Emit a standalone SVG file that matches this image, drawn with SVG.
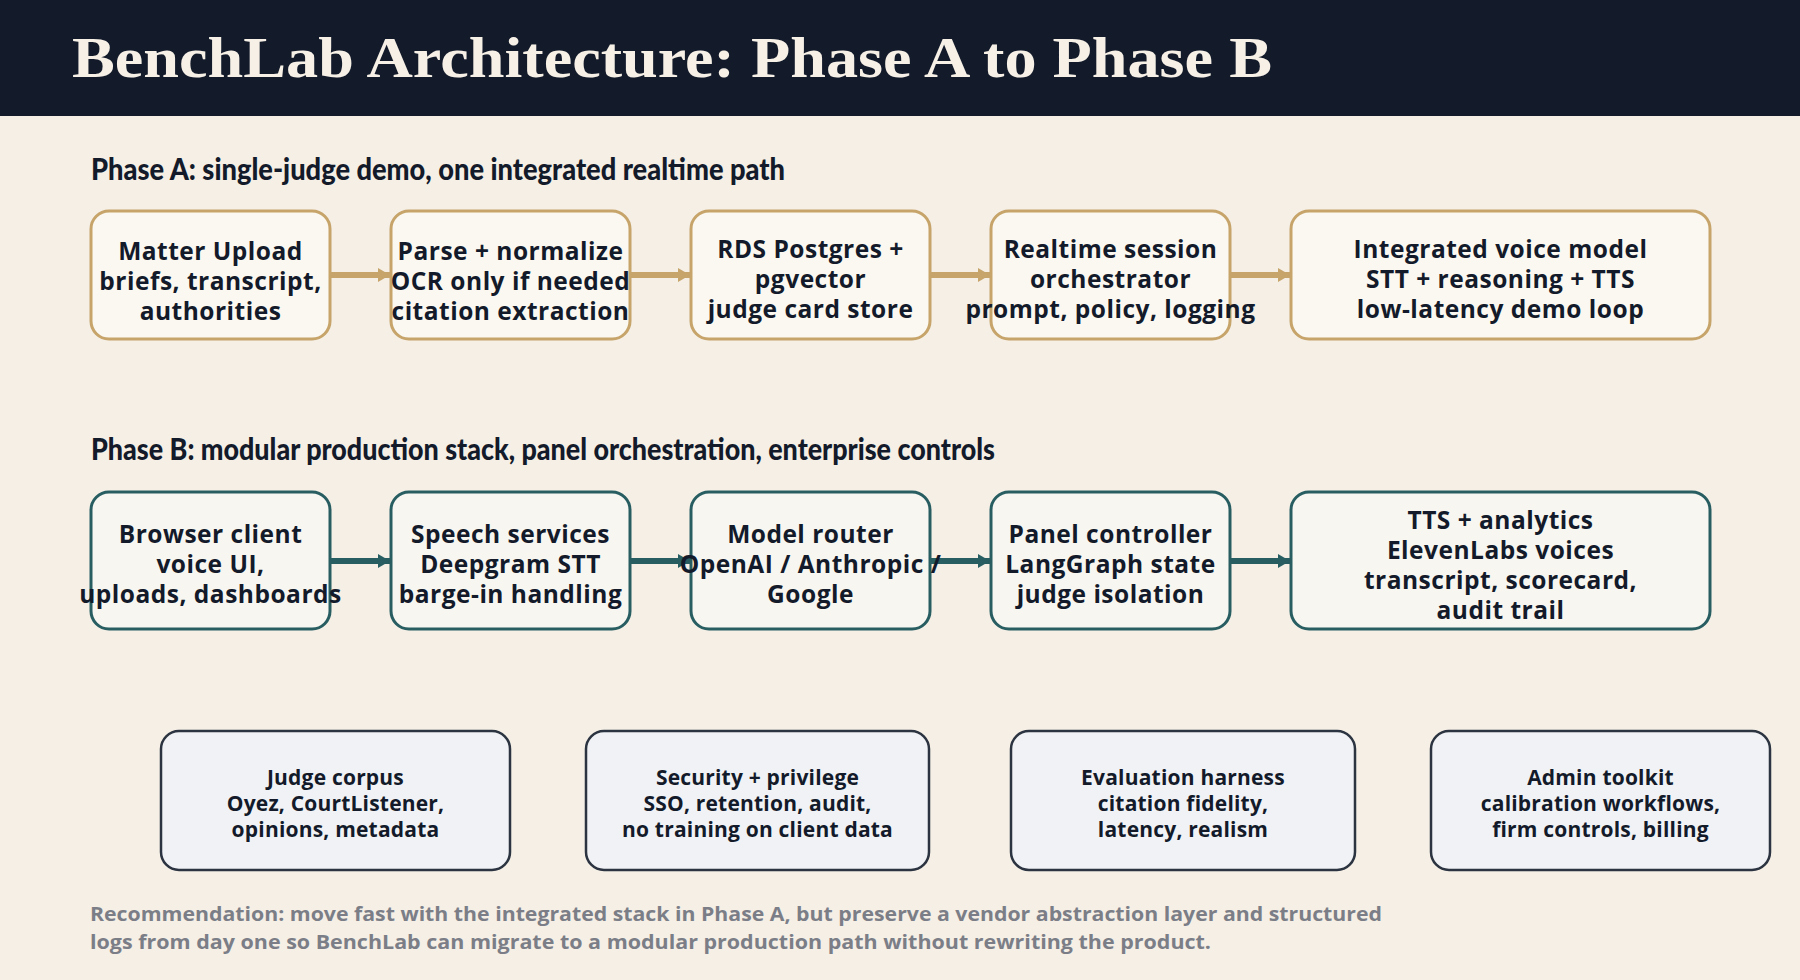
<svg xmlns="http://www.w3.org/2000/svg" width="1800" height="980" viewBox="0 0 1800 980">
<style>
.title{font-family:"Liberation Serif","DejaVu Serif",serif;font-weight:700;font-size:56px;fill:#f6f0e6}
.phase{font-family:Lato,"Open Sans",sans-serif;font-weight:900;font-size:30px;fill:#131a2a}
.a rect{fill:#fbf8f1;stroke:#c6a46a;stroke-width:3}
.b rect{fill:#f8f6f1;stroke:#285e62;stroke-width:3}
.c rect{fill:#f1f2f5;stroke:#2b3440;stroke-width:2.5}
.t{font-family:"Open Sans",Lato,sans-serif;font-weight:700;font-size:24.5px;letter-spacing:0.5px;fill:#131a2a;text-anchor:middle}
.s{font-family:"Open Sans",Lato,sans-serif;font-weight:700;font-size:21px;letter-spacing:0.2px;fill:#131a2a;text-anchor:middle}
.foot{font-family:"Open Sans",Lato,sans-serif;font-weight:700;font-size:20px;fill:#7b7e86}
.la{stroke:#c6a46a;stroke-width:6;fill:none}
.lb{stroke:#285e62;stroke-width:6;fill:none}
</style>
<defs>
<marker id="ha" markerUnits="userSpaceOnUse" markerWidth="14" markerHeight="16" refX="12" refY="8" orient="auto"><path d="M0,1 L12,8 L0,15 z" fill="#c6a46a"/></marker>
<marker id="hb" markerUnits="userSpaceOnUse" markerWidth="14" markerHeight="16" refX="12" refY="8" orient="auto"><path d="M0,1 L12,8 L0,15 z" fill="#285e62"/></marker>
</defs>
<rect x="0" y="0" width="1800" height="980" fill="#f5efe6"/>
<rect x="0" y="0" width="1800" height="116" fill="#131a2a"/>
<text class="title" x="72" y="77" textLength="1200" lengthAdjust="spacingAndGlyphs">BenchLab Architecture: Phase A to Phase B</text>

<text class="phase" x="91" y="180" textLength="694" lengthAdjust="spacingAndGlyphs">Phase A: single-judge demo, one integrated realtime path</text>
<text class="phase" x="91" y="460" textLength="904" lengthAdjust="spacingAndGlyphs">Phase B: modular production stack, panel orchestration, enterprise controls</text>

<g id="connectors">
<line class="la" x1="330" y1="275" x2="390" y2="275" marker-end="url(#ha)"/>
<line class="la" x1="630" y1="275" x2="690" y2="275" marker-end="url(#ha)"/>
<line class="la" x1="930" y1="275" x2="990" y2="275" marker-end="url(#ha)"/>
<line class="la" x1="1230" y1="275" x2="1290" y2="275" marker-end="url(#ha)"/>
<line class="lb" x1="330" y1="561" x2="390" y2="561" marker-end="url(#hb)"/>
<line class="lb" x1="630" y1="561" x2="690" y2="561" marker-end="url(#hb)"/>
<line class="lb" x1="930" y1="561" x2="990" y2="561" marker-end="url(#hb)"/>
<line class="lb" x1="1230" y1="561" x2="1290" y2="561" marker-end="url(#hb)"/>
</g>

<g id="a1" class="a"><rect x="91" y="211" width="239" height="128" rx="18"/><text class="t" x="210.5" y="260">Matter Upload</text><text class="t" x="210.5" y="290">briefs, transcript,</text><text class="t" x="210.5" y="320">authorities</text></g>
<g id="a2" class="a"><rect x="391" y="211" width="239" height="128" rx="18"/><text class="t" x="510.5" y="260">Parse + normalize</text><text class="t" x="510.5" y="290">OCR only if needed</text><text class="t" x="510.5" y="320">citation extraction</text></g>
<g id="a3" class="a"><rect x="691" y="211" width="239" height="128" rx="18"/><text class="t" x="810.5" y="258">RDS Postgres +</text><text class="t" x="810.5" y="288">pgvector</text><text class="t" x="810.5" y="318">judge card store</text></g>
<g id="a4" class="a"><rect x="991" y="211" width="239" height="128" rx="18"/><text class="t" x="1110.5" y="258">Realtime session</text><text class="t" x="1110.5" y="288">orchestrator</text><text class="t" x="1110.5" y="318">prompt, policy, logging</text></g>
<g id="a5" class="a"><rect x="1291" y="211" width="419" height="128" rx="18"/><text class="t" x="1500.5" y="258">Integrated voice model</text><text class="t" x="1500.5" y="288">STT + reasoning + TTS</text><text class="t" x="1500.5" y="318">low-latency demo loop</text></g>

<g id="b1" class="b"><rect x="91" y="492" width="239" height="137" rx="18"/><text class="t" x="210.5" y="543">Browser client</text><text class="t" x="210.5" y="573">voice UI,</text><text class="t" x="210.5" y="603">uploads, dashboards</text></g>
<g id="b2" class="b"><rect x="391" y="492" width="239" height="137" rx="18"/><text class="t" x="510.5" y="543">Speech services</text><text class="t" x="510.5" y="573">Deepgram STT</text><text class="t" x="510.5" y="603">barge-in handling</text></g>
<g id="b3" class="b"><rect x="691" y="492" width="239" height="137" rx="18"/><text class="t" x="810.5" y="543">Model router</text><text class="t" x="810.5" y="573">OpenAI / Anthropic /</text><text class="t" x="810.5" y="603">Google</text></g>
<g id="b4" class="b"><rect x="991" y="492" width="239" height="137" rx="18"/><text class="t" x="1110.5" y="543">Panel controller</text><text class="t" x="1110.5" y="573">LangGraph state</text><text class="t" x="1110.5" y="603">judge isolation</text></g>
<g id="b5" class="b"><rect x="1291" y="492" width="419" height="137" rx="18"/><text class="t" x="1500.5" y="529">TTS + analytics</text><text class="t" x="1500.5" y="559">ElevenLabs voices</text><text class="t" x="1500.5" y="589">transcript, scorecard,</text><text class="t" x="1500.5" y="619">audit trail</text></g>

<g id="c1" class="c"><rect x="161" y="731" width="349" height="139" rx="18"/><text class="s" x="335.5" y="785">Judge corpus</text><text class="s" x="335.5" y="811">Oyez, CourtListener,</text><text class="s" x="335.5" y="837">opinions, metadata</text></g>
<g id="c2" class="c"><rect x="586" y="731" width="343" height="139" rx="18"/><text class="s" x="757.5" y="785">Security + privilege</text><text class="s" x="757.5" y="811">SSO, retention, audit,</text><text class="s" x="757.5" y="837">no training on client data</text></g>
<g id="c3" class="c"><rect x="1011" y="731" width="344" height="139" rx="18"/><text class="s" x="1183" y="785">Evaluation harness</text><text class="s" x="1183" y="811">citation fidelity,</text><text class="s" x="1183" y="837">latency, realism</text></g>
<g id="c4" class="c"><rect x="1431" y="731" width="339" height="139" rx="18"/><text class="s" x="1600.5" y="785">Admin toolkit</text><text class="s" x="1600.5" y="811">calibration workflows,</text><text class="s" x="1600.5" y="837">firm controls, billing</text></g>

<text class="foot" x="90" y="921" textLength="1292" lengthAdjust="spacingAndGlyphs">Recommendation: move fast with the integrated stack in Phase A, but preserve a vendor abstraction layer and structured</text>
<text class="foot" x="90" y="949" textLength="1121" lengthAdjust="spacingAndGlyphs">logs from day one so BenchLab can migrate to a modular production path without rewriting the product.</text>
</svg>
